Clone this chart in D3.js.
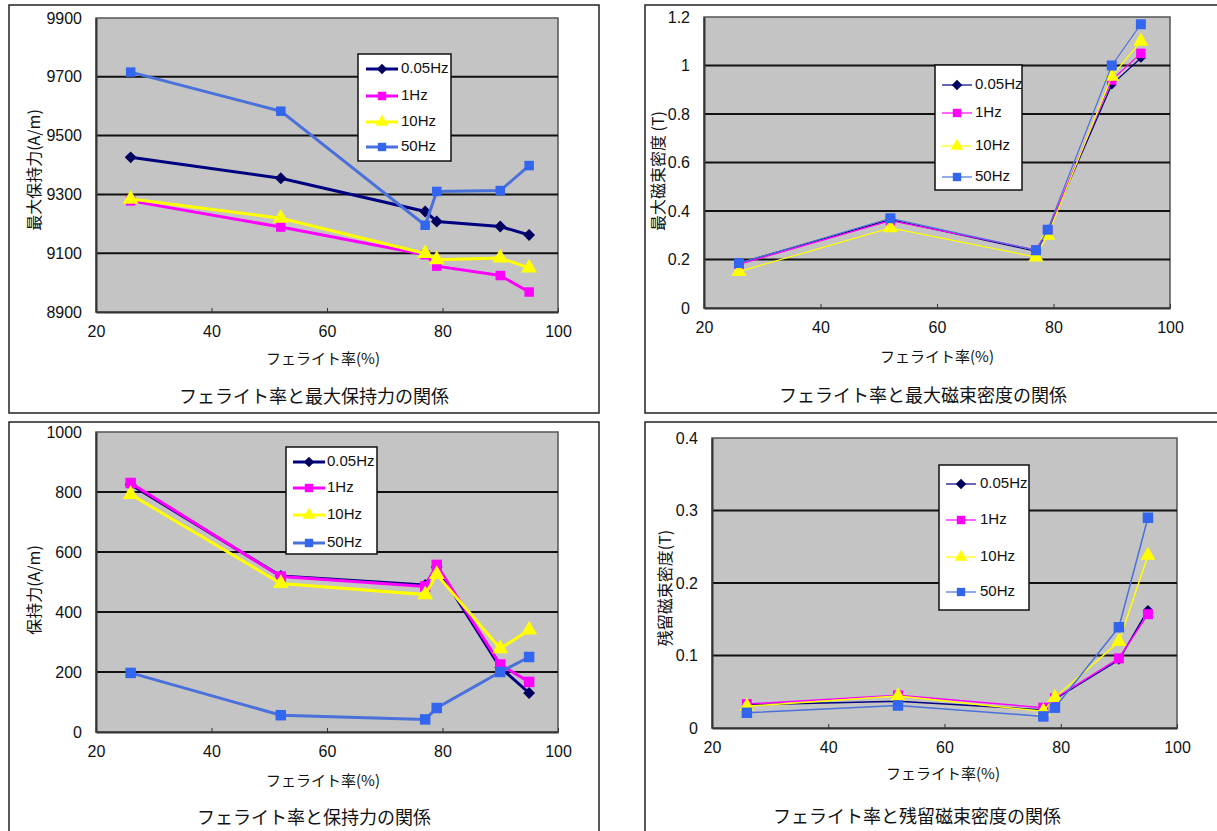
<!DOCTYPE html>
<html>
<head>
<meta charset="utf-8">
<script src="https://cdn.jsdelivr.net/npm/d3@7"></script>
<style>
  body { margin: 0; background: #fff; }
  svg { display: block; }
  .tick-label { font-family: "Liberation Sans", Arial, sans-serif; font-size: 16px; fill: #111; }
  .legend-label { font-family: "Liberation Sans", Arial, sans-serif; font-size: 15px; fill: #111; }
  .jp { font-family: "Noto Sans CJK JP", sans-serif; fill: #111; }
</style>
</head>
<body>
<div id="wrapper"></div>
<script>
// 1. data
const ferriteRate = [26, 52, 77, 79, 90, 95]
const freqLabels = ["0.05Hz", "1Hz", "10Hz", "50Hz"]
const xTickValues = [20, 40, 60, 80, 100]

// 最大保持力 (A/m)
const maxCoercive = [
  [9426, 9355, 9242, 9208, 9191, 9162],
  [9278, 9189, 9095, 9056, 9024, 8968],
  [9284, 9219, 9099, 9078, 9084, 9050],
  [9716, 9583, 9195, 9310, 9313, 9398],
]
const maxCoerciveTicks = [8900, 9100, 9300, 9500, 9700, 9900]

// 最大磁束密度 (T)
const maxFlux = [
  [0.186, 0.364, 0.234, 0.316, 0.921, 1.031],
  [0.18, 0.36, 0.24, 0.32, 0.94, 1.05],
  [0.15, 0.33, 0.21, 0.30, 0.955, 1.10],
  [0.185, 0.37, 0.238, 0.323, 1.0, 1.17],
]
const maxFluxTicks = [0, 0.2, 0.4, 0.6, 0.8, 1, 1.2]

// 保持力 (A/m)
const coercive = [
  [825, 520, 490, 550, 215, 130],
  [830, 518, 485, 557, 225, 167],
  [792, 495, 458, 525, 278, 340],
  [197, 56, 42, 80, 200, 250],
]
const coerciveTicks = [0, 200, 400, 600, 800, 1000]

// 残留磁束密度 (T)
const remanentFlux = [
  [0.032, 0.037, 0.025, 0.040, 0.094, 0.163],
  [0.033, 0.045, 0.028, 0.041, 0.096, 0.157],
  [0.030, 0.044, 0.023, 0.042, 0.119, 0.238],
  [0.021, 0.031, 0.016, 0.028, 0.139, 0.290],
]
const remanentFluxTicks = [0, 0.1, 0.2, 0.3, 0.4]

// 2. styles + layout
const lineColors = ["#000080", "#ff00ff", "#ffff00", "#4a70dc"]
const markerColors = ["#000060", "#ff00ff", "#ffff00", "#3366ee"]
const diamond = d3.symbolDiamond2 || d3.symbolDiamond
const markerTypes = [diamond, d3.symbolSquare, d3.symbolTriangle, d3.symbolSquare]

const panels = [
  {
    values: maxCoercive, yTicks: maxCoerciveTicks,
    frame: [9, 5, 599, 413], plot: [96, 18, 558, 312],
    yTitle: "最大保持力(A/m)", yTitlePos: [36, 170],
    xTitlePos: [323, 360],
    title: "フェライト率と最大保持力の関係", titlePos: [314, 398],
    legend: { box: [358, 54, 451, 161], rows: [69, 96, 122, 147], line: [366, 398], text: 401 },
    lineWidth: 3, markerSize: [90, 90, 110, 90], legendLine: 3,
  },
  {
    values: maxFlux, yTicks: maxFluxTicks,
    frame: [645, 5, 1220, 413], plot: [704, 17, 1170, 308],
    yTitle: "最大磁束密度 (T)", yTitlePos: [660, 171],
    xTitlePos: [937, 358],
    title: "フェライト率と最大磁束密度の関係", titlePos: [923, 397],
    legend: { box: [935, 65, 1022, 190], rows: [85, 113, 146, 177], line: [942, 972], text: 975 },
    lineWidth: 1.2, markerSize: [60, 90, 100, 100], legendLine: 1.2,
  },
  {
    values: coercive, yTicks: coerciveTicks,
    frame: [9, 422, 599, 840], plot: [96, 432, 558, 732],
    yTitle: "保持力(A/m)", yTitlePos: [36, 590],
    xTitlePos: [323, 782],
    title: "フェライト率と保持力の関係", titlePos: [314, 819],
    legend: { box: [286, 447, 377, 554], rows: [462, 488, 515, 543], line: [293, 325], text: 327 },
    lineWidth: 3, markerSize: [90, 110, 110, 110], legendLine: 3,
  },
  {
    values: remanentFlux, yTicks: remanentFluxTicks,
    frame: [645, 422, 1220, 840], plot: [712, 438, 1177, 728],
    yTitle: "残留磁束密度(T)", yTitlePos: [667, 588],
    xTitlePos: [943, 775],
    title: "フェライト率と残留磁束密度の関係", titlePos: [917, 818],
    legend: { box: [939, 465, 1029, 610], rows: [484, 520, 557, 592], line: [946, 976], text: 980 },
    lineWidth: 1.5, markerSize: [60, 100, 100, 110], legendLine: 1.2,
  },
]

const svg = d3.select("#wrapper")
  .append("svg")
  .attr("width", 1217)
  .attr("height", 831)

panels.forEach(p => drawPanel(p))

function drawPanel(p) {
  const g = svg.append("g")
  const [fx0, fy0, fx1, fy1] = p.frame
  const [px0, py0, px1, py1] = p.plot

  g.append("rect")
    .attr("x", fx0).attr("y", fy0)
    .attr("width", fx1 - fx0).attr("height", fy1 - fy0)
    .attr("fill", "#fff")
    .attr("stroke", "#222")
    .attr("stroke-width", 1.5)

  const xScale = d3.scaleLinear().domain([20, 100]).range([px0, px1])
  const yScale = d3.scaleLinear().domain(d3.extent(p.yTicks)).range([py1, py0])

  // plot area
  g.append("rect")
    .attr("x", px0).attr("y", py0)
    .attr("width", px1 - px0).attr("height", py1 - py0)
    .attr("fill", "#c4c4c4")
    .attr("stroke", "#555")
    .attr("stroke-width", 1.5)

  // gridlines
  g.append("g")
    .selectAll("line")
    .data(p.yTicks.slice(1, -1))
    .join("line")
    .attr("x1", px0).attr("x2", px1)
    .attr("y1", d => yScale(d)).attr("y2", d => yScale(d))
    .attr("stroke", "#111")
    .attr("stroke-width", 2)

  // axes
  const xAxis = d3.axisBottom(xScale)
    .tickValues(xTickValues)
    .tickSizeInner(-4).tickSizeOuter(0)
    .tickPadding(14)
  const xAxisGroup = g.append("g")
    .attr("transform", `translate(0,${py1})`)
    .call(xAxis)
  xAxisGroup.select(".domain").attr("stroke", "#333").attr("stroke-width", 2)
  xAxisGroup.selectAll(".tick line").attr("stroke", "#333")
  xAxisGroup.selectAll(".tick text")
    .attr("class", "tick-label")
    .attr("font-family", null).attr("font-size", null)

  const yAxis = d3.axisLeft(yScale)
    .tickValues(p.yTicks)
    .tickSizeInner(0).tickSizeOuter(0)
    .tickPadding(14)
    .tickFormat(d => d)
  const yAxisGroup = g.append("g")
    .attr("transform", `translate(${px0},0)`)
    .call(yAxis)
  yAxisGroup.select(".domain").attr("stroke", "#333").attr("stroke-width", 2)
  yAxisGroup.selectAll(".tick text")
    .attr("class", "tick-label")
    .attr("font-family", null).attr("font-size", null)

  // series
  const line = d3.line()
    .x((d, i) => xScale(ferriteRate[i]))
    .y(d => yScale(d))

  p.values.forEach((series, s) => {
    g.append("path")
      .datum(series)
      .attr("d", line)
      .attr("fill", "none")
      .attr("stroke", lineColors[s])
      .attr("stroke-width", p.lineWidth)

    g.append("g")
      .selectAll("path")
      .data(series)
      .join("path")
      .attr("transform", (d, i) => `translate(${xScale(ferriteRate[i])},${yScale(d)})`)
      .attr("d", d3.symbol().type(markerTypes[s]).size(p.markerSize[s]))
      .attr("fill", markerColors[s])
  })

  // titles
  g.append("text")
    .attr("class", "jp")
    .attr("x", p.xTitlePos[0]).attr("y", p.xTitlePos[1])
    .attr("text-anchor", "middle")
    .attr("dominant-baseline", "middle")
    .attr("font-size", 15)
    .text("フェライト率(%)")

  g.append("text")
    .attr("class", "jp")
    .attr("transform", `translate(${p.yTitlePos[0]},${p.yTitlePos[1]}) rotate(-90)`)
    .attr("text-anchor", "middle")
    .attr("dominant-baseline", "middle")
    .attr("font-size", 16)
    .text(p.yTitle)

  g.append("text")
    .attr("class", "jp")
    .attr("x", p.titlePos[0]).attr("y", p.titlePos[1])
    .attr("text-anchor", "middle")
    .attr("dominant-baseline", "middle")
    .attr("font-size", 18)
    .text(p.title)

  // legend
  const lg = p.legend
  g.append("rect")
    .attr("x", lg.box[0]).attr("y", lg.box[1])
    .attr("width", lg.box[2] - lg.box[0]).attr("height", lg.box[3] - lg.box[1])
    .attr("fill", "#fff")
    .attr("stroke", "#111")
    .attr("stroke-width", 1.5)

  freqLabels.forEach((label, s) => {
    const y = lg.rows[s]
    g.append("line")
      .attr("x1", lg.line[0]).attr("x2", lg.line[1])
      .attr("y1", y).attr("y2", y)
      .attr("stroke", lineColors[s])
      .attr("stroke-width", p.legendLine)
    g.append("path")
      .attr("transform", `translate(${(lg.line[0] + lg.line[1]) / 2},${y})`)
      .attr("d", d3.symbol().type(markerTypes[s]).size(70))
      .attr("fill", markerColors[s])
    g.append("text")
      .attr("class", "legend-label")
      .attr("x", lg.text).attr("y", y)
      .attr("dominant-baseline", "middle")
      .text(label)
  })
}
</script>
</body>
</html>
